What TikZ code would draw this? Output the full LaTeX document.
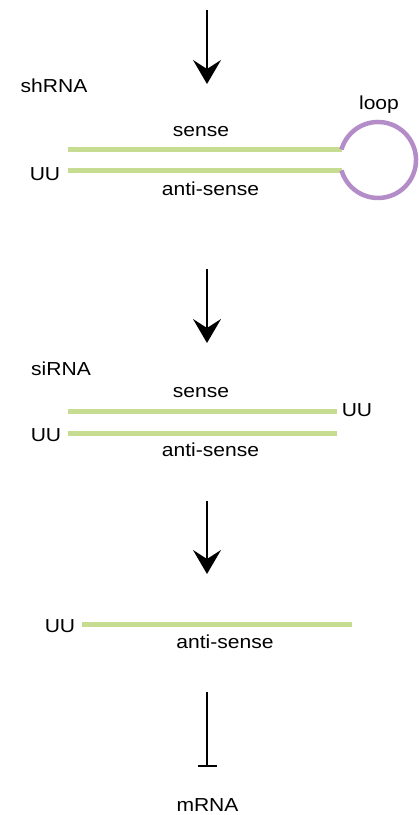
\documentclass[tikz,border=0pt]{standalone}
\usepackage{fontspec}
\setmainfont{Liberation Sans}[FakeStretch=1.12]
\usetikzlibrary{arrows.meta}
\definecolor{strand}{RGB}{198,220,145}
\definecolor{loopc}{RGB}{180,140,200}
\begin{document}
\begin{tikzpicture}[x=1pt,y=-1pt,
  lbl/.style={anchor=base,inner sep=0pt,font=\fontsize{18.8}{22}\selectfont},
  strandline/.style={draw=strand,line width=5pt},
  flow/.style={line width=2pt,-{Stealth[length=24pt,width=28pt,inset=9pt]}},
  inhib/.style={line width=2pt,-{Bar[width=19pt,line width=2pt]}}]
\useasboundingbox (0,0) rectangle (419,815);
% arrow 1
\coordinate (a1s) at (207,10);
\coordinate (a1e) at (207,84);
\draw[flow] (a1s) -- (a1e);
% shRNA
\node[lbl] (shrna) at (54,92) {shRNA};
\node[lbl] (looplbl) at (379,109) {loop};
\node[lbl] (sense1) at (201,136) {sense};
\node[lbl] (anti1) at (210.5,195) {anti-sense};
\node[lbl] (uu1) at (45,180) {UU};
\coordinate (s1a) at (68,149.5);
\coordinate (s1b) at (341.5,149.5);
\coordinate (t1a) at (68,170.5);
\coordinate (t1b) at (341.5,170.5);
\draw[strandline] (s1a) -- (s1b);
\draw[strandline] (t1a) -- (t1b);
\draw[draw=loopc,line width=4.5pt] (s1b) arc[start angle=196,end angle=524,radius=38];
% arrow 2
\coordinate (a2s) at (207,269);
\coordinate (a2e) at (207,343);
\draw[flow] (a2s) -- (a2e);
% siRNA
\node[lbl] (sirna) at (61,375) {siRNA};
\node[lbl] (sense2) at (201,397.5) {sense};
\node[lbl] (uu2r) at (357,416.5) {UU};
\node[lbl] (uu2l) at (46,441.5) {UU};
\node[lbl] (anti2) at (210.5,456.5) {anti-sense};
\coordinate (s2a) at (68,411);
\coordinate (s2b) at (337,411);
\coordinate (t2a) at (68,433);
\coordinate (t2b) at (337,433);
\draw[strandline] (s2a) -- (s2b);
\draw[strandline] (t2a) -- (t2b);
% arrow 3
\coordinate (a3s) at (207,501);
\coordinate (a3e) at (207,574);
\draw[flow] (a3s) -- (a3e);
% single strand
\node[lbl] (uu3) at (60,632.5) {UU};
\node[lbl] (anti3) at (225,648) {anti-sense};
\coordinate (t3a) at (82,624);
\coordinate (t3b) at (352,624);
\draw[strandline] (t3a) -- (t3b);
% inhibition
\coordinate (i1) at (207,692);
\coordinate (i2) at (207,767);
\draw[inhib] (i1) -- (i2);
\node[lbl] (mrna) at (207.5,811) {mRNA};
\end{tikzpicture}
\end{document}
